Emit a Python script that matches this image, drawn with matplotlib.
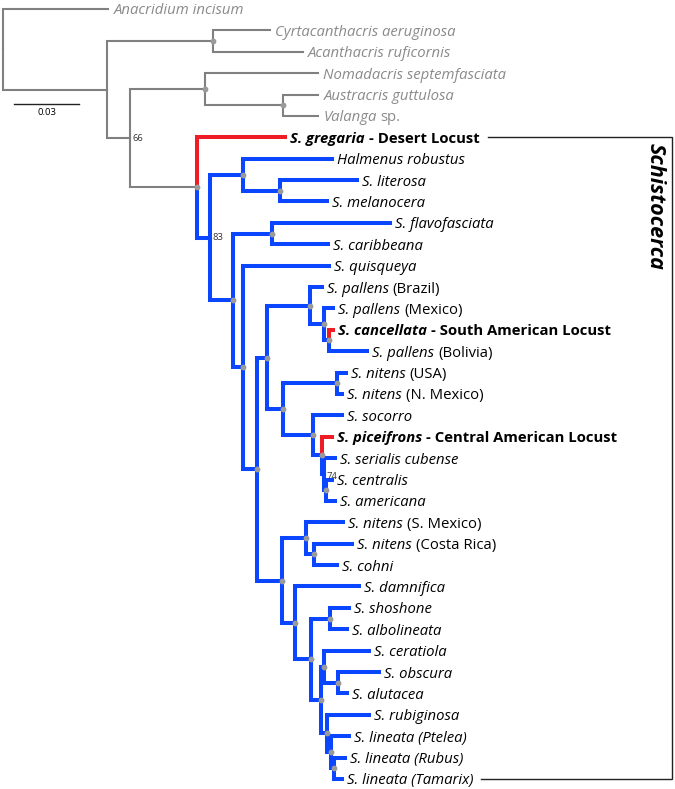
import re
import matplotlib.pyplot as plt

# phylogeny: branch lengths in substitutions/site,
# internal labels = support (100 -> grey dot, lower values printed)
TREE = ("(Anacridium:0.0485,((Cyrtacanthacris:0.0263,Acanthacris:0.0415)100:0.0489,"
        "((Nomadacris:0.0522,(Austracris:0.0162,Valanga:0.0162)100:0.0360)100:0.0346,"
        "(gregaria:0.0406,"
        "((Halmenus:0.0411,(literosa:0.0355,melanocera:0.0217)100:0.0171)100:0.0152,"
        "((flavofasciata:0.0545,caribbeana:0.0258)100:0.0180,"
        "(quisqueya:0.0397,"
        "(((pallens_BR:0.0055,(pallens_MX:0.0042,(cancellata:0.0018,pallens_BO:0.0175)100:0.0023)100:0.0065)100:0.0198,"
        "((nitens_US:0.0042,nitens_NM:0.0023)100:0.0249,"
        "(socorro:0.0134,(piceifrons:0.0046,(serialis:0.0051,(centralis:0.0028,americana:0.0042)100:0.0009)74:0.0009)100:0.0042)100:0.0138)100:0.0074)100:0.0046,"
        "((nitens_SM:0.0171,(nitens_CR:0.0175,cohni:0.0106)100:0.0037)100:0.0111,"
        "(damnifica:0.0295,"
        "((shoshone:0.0088,albolineata:0.0078)100:0.0088,"
        "((ceratiola:0.0208,(obscura:0.0189,alutacea:0.0042)100:0.0065)100:0.0014,"
        "(rubiginosa:0.0194,(lineata_P:0.0083,(lineata_R:0.0051,lineata_T:0.0037)100:0.0014)100:0.0018)100:0.0028)100:0.0046)100:0.0074)100:0.0060)100:0.0115)100:0.0065)100:0.0046)100:0.0106)83:0.0060)100:0.0309)66:0.0106):0.0480);")

# locust species highlighted in red
LOCUSTS = ["gregaria", "cancellata", "piceifrons"]

# tip labels: (text, style) pieces, i = italic, n = normal, b = bold
LABELS = {
    "Anacridium": [("Anacridium incisum", "i")],
    "Cyrtacanthacris": [("Cyrtacanthacris aeruginosa", "i")],
    "Acanthacris": [("Acanthacris ruficornis", "i")],
    "Nomadacris": [("Nomadacris septemfasciata", "i")],
    "Austracris": [("Austracris guttulosa", "i")],
    "Valanga": [("Valanga", "i"), ("sp.", "n")],
    "gregaria": [("S. gregaria", "bi"), ("- Desert Locust", "b")],
    "Halmenus": [("Halmenus robustus", "i")],
    "literosa": [("S. literosa", "i")],
    "melanocera": [("S. melanocera", "i")],
    "flavofasciata": [("S. flavofasciata", "i")],
    "caribbeana": [("S. caribbeana", "i")],
    "quisqueya": [("S. quisqueya", "i")],
    "pallens_BR": [("S. pallens", "i"), ("(Brazil)", "n")],
    "pallens_MX": [("S. pallens", "i"), ("(Mexico)", "n")],
    "cancellata": [("S. cancellata", "bi"), ("- South American Locust", "b")],
    "pallens_BO": [("S. pallens", "i"), ("(Bolivia)", "n")],
    "nitens_US": [("S. nitens", "i"), ("(USA)", "n")],
    "nitens_NM": [("S. nitens", "i"), ("(N. Mexico)", "n")],
    "socorro": [("S. socorro", "i")],
    "piceifrons": [("S. piceifrons", "bi"), ("- Central American Locust", "b")],
    "serialis": [("S. serialis cubense", "i")],
    "centralis": [("S. centralis", "i")],
    "americana": [("S. americana", "i")],
    "nitens_SM": [("S. nitens", "i"), ("(S. Mexico)", "n")],
    "nitens_CR": [("S. nitens", "i"), ("(Costa Rica)", "n")],
    "cohni": [("S. cohni", "i")],
    "damnifica": [("S. damnifica", "i")],
    "shoshone": [("S. shoshone", "i")],
    "albolineata": [("S. albolineata", "i")],
    "ceratiola": [("S. ceratiola", "i")],
    "obscura": [("S. obscura", "i")],
    "alutacea": [("S. alutacea", "i")],
    "rubiginosa": [("S. rubiginosa", "i")],
    "lineata_P": [("S. lineata (Ptelea)", "i")],
    "lineata_R": [("S. lineata (Rubus)", "i")],
    "lineata_T": [("S. lineata (Tamarix)", "i")],
}

GREY = "#808080"
TXT_GREY = "#8a8a8a"
BLUE = "#0a45ff"
RED = "#ee1c24"
DOT = "#9a9a9a"
FONT = "Open Sans"
FS = 10.7


def parse(s):
    tokens = re.findall(r"[(),;]|[^(),;]+", s)
    pos = 0

    def node():
        nonlocal pos
        n = {"children": [], "name": "", "len": 0.0}
        if tokens[pos] == "(":
            pos += 1
            while True:
                n["children"].append(node())
                if tokens[pos] == ",":
                    pos += 1
                else:
                    break
            pos += 1
        if tokens[pos] not in "(),;":
            name, _, bl = tokens[pos].partition(":")
            n["name"] = name
            n["len"] = float(bl) if bl else 0.0
            pos += 1
        return n

    return node()


def walk(n):
    yield n
    for c in n["children"]:
        yield from walk(c)


root = parse(TREE)
tips = []


def layout(n, x0):
    n["x"] = x0 + n["len"]
    if n["children"]:
        for c in n["children"]:
            layout(c, n["x"])
        n["y"] = (n["children"][0]["y"] + n["children"][-1]["y"]) / 2
    else:
        n["y"] = len(tips)
        tips.append(n)


layout(root, 0.0)

# the Schistocerca clade = node holding S. gregaria
ingroup = next(n for n in walk(root) if any(c["name"] == "gregaria" for c in n["children"]))
in_ids = {id(m) for m in walk(ingroup)} - {id(ingroup)}

fig = plt.figure(figsize=(6.75, 7.89), dpi=100)
ax = fig.add_axes([0, 0, 1, 1])
ax.set_xlim(-0.0014, 0.3102)
ax.set_ylim(len(tips) - 0.53, -0.42)
ax.axis("off")

for n in walk(root):
    for c in n["children"]:
        if c["name"] in LOCUSTS:
            col, lw, z = RED, 2.9, 3
        elif id(c) in in_ids:
            col, lw, z = BLUE, 2.9, 2
        else:
            col, lw, z = GREY, 1.5, 2
        ax.plot([n["x"], n["x"], c["x"]], [n["y"], c["y"], c["y"]], color=col, lw=lw,
                solid_capstyle="projecting", solid_joinstyle="miter", zorder=z)
    if n["children"] and n["name"]:
        if n["name"] == "100":
            ax.plot(n["x"], n["y"], "o", ms=4.2, color=DOT, mec="none", zorder=5)
        else:
            ax.annotate(n["name"], (n["x"], n["y"]), xytext=(1.8, -1.5 if n["name"] == "74" else 0),
                        textcoords="offset points", fontsize=6.8, family=FONT,
                        color="#333333", va="center")

# tip labels
last = {}
for t in tips:
    col = "black" if id(t) in in_ids else TXT_GREY
    prev = None
    for txt, st in LABELS[t["name"]]:
        kw = dict(fontsize=FS, family=FONT, color=col, va="center_baseline",
                  fontstyle="italic" if "i" in st else "normal",
                  fontweight="bold" if "b" in st else "normal")
        if prev is None:
            prev = ax.annotate(txt, (t["x"], t["y"]), xytext=(3.9, 0),
                               textcoords="offset points", **kw)
        else:
            prev = ax.annotate(txt, (1, t["y"]), xycoords=(prev, "data"), xytext=(2.7, 0),
                               textcoords="offset points", **kw)
    last[t["name"]] = prev

# scale bar
ax.plot([0.0051, 0.0351], [4.44, 4.44], color="#222222", lw=1.0)
ax.text(0.0201, 4.86, "0.03", ha="center", va="center", fontsize=6.8, family=FONT)

# Schistocerca bracket
fig.canvas.draw()
r = fig.canvas.get_renderer()
inv = ax.transAxes.inverted()
y_top = next(t["y"] for t in tips if t["name"] == "gregaria")
y_bot = tips[-1]["y"]
x_right = 0.9956
x0 = inv.transform((last["gregaria"].get_window_extent(r).x1 + 9, 0))[0]
x1 = inv.transform((last[tips[-1]["name"]].get_window_extent(r).x1 + 7, 0))[0]
tr = ax.get_yaxis_transform()
ax.plot([x0, x_right, x_right, x1], [y_top, y_top, y_bot, y_bot], color="#222222",
        lw=1.0, transform=tr, solid_joinstyle="miter")
ax.text(0.971, y_top + 0.27, "Schistocerca", transform=tr, rotation=-90, ha="center",
        va="top", fontsize=15.5, family=FONT, fontweight="bold", fontstyle="italic")

fig.savefig("out.png", dpi=100)
